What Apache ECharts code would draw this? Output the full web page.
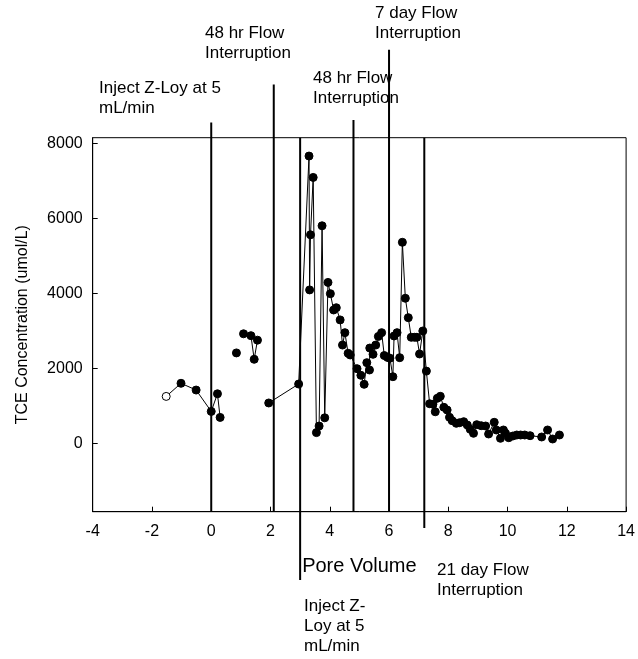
<!DOCTYPE html>
<html>
<head>
<meta charset="utf-8">
<script src="https://cdn.jsdelivr.net/npm/echarts@6/dist/echarts.min.js"></script>
<style>
html,body{margin:0;padding:0;background:#fff;}
#chart{width:638px;height:659px;}
</style>
</head>
<body>
<div id="chart"></div>
<script>
// ---- data (pore volume, TCE umol/L) ----
const seg1PV  = [-1.52, -1.02, -0.51, 0.00, 0.21, 0.30];
const seg1TCE = [1250, 1600, 1420, 850, 1320, 690];
const seg2PV  = [0.85];
const seg2TCE = [2410];
const seg3PV  = [1.09, 1.34, 1.45, 1.56];
const seg3TCE = [2920, 2870, 2240, 2750];
const seg4PV  = [1.94, 2.95, 3.30, 3.32, 3.35, 3.44, 3.55, 3.64, 3.74, 3.83,
                 3.94, 4.02, 4.13, 4.22, 4.35, 4.43, 4.51, 4.62, 4.69, 4.92,
                 5.05, 5.16, 5.25, 5.34, 5.35, 5.46, 5.55, 5.64, 5.75, 5.84,
                 5.95, 6.03, 6.13, 6.17, 6.27, 6.36, 6.45, 6.55, 6.65, 6.75,
                 6.86, 6.94, 7.03, 7.14, 7.26, 7.37, 7.48, 7.56, 7.63, 7.73,
                 7.85, 7.96, 8.04, 8.13, 8.27, 8.38, 8.52, 8.64, 8.74, 8.85,
                 8.96, 9.11, 9.26, 9.36, 9.55, 9.62, 9.76, 9.86, 9.93, 10.04,
                 10.18, 10.31, 10.44, 10.58, 10.76, 11.15, 11.35, 11.52, 11.75];
const seg4TCE = [1075, 1580, 7660, 4090, 5560, 7090, 285, 460, 5800, 680,
                 4290, 3990, 3555, 3615, 3290, 2620, 2950, 2400, 2355, 1990,
                 1813, 1573, 2150, 1955, 2540, 2373, 2620, 2850, 2950, 2340,
                 2290, 2270, 1776, 2862, 2950, 2283, 5360, 3867, 3350, 2827,
                 2827, 2827, 2382, 2995, 1925, 1055, 1040, 840, 1200, 1253,
                 960, 888, 693, 603, 533, 549, 576, 488, 373, 267,
                 496, 469, 461, 248, 560, 355, 133, 355, 267, 149,
                 195, 221, 221, 221, 203, 168, 355, 115, 221];
// index of the open-circle point in seg1
const openIndex = 0;

// event (vertical) lines
const eventPV     = [0, 2.11, 3.0, 4.80, 6.0, 7.19];
const eventTop    = [8557, 9566, 8149, 8622, 10497, 8149];
const eventBottom = [-1824, -1824, -3646, -1824, -1824, -2259];

// axis ticks
const xTicks = [-4, -2, 0, 2, 4, 6, 8, 10, 12, 14];
const yTicks = [0, 2000, 4000, 6000, 8000];

// annotation texts
const notes = [
  {lines: ['Inject Z-Loy at 5', 'mL/min'], x: 99, y: 88},
  {lines: ['48 hr Flow', 'Interruption'], x: 205, y: 33},
  {lines: ['48 hr Flow', 'Interruption'], x: 313, y: 78},
  {lines: ['7 day Flow', 'Interruption'], x: 375, y: 13},
  {lines: ['21 day Flow', 'Interruption'], x: 437, y: 570},
  {lines: ['Inject Z-', 'Loy at 5', 'mL/min'], x: 304, y: 606}
];

const FONT = '"Liberation Sans", Arial, sans-serif';

function zip(a, b) { return a.map((v, i) => [v, b[i]]); }

const pointStyle = {
  type: 'line',
  symbol: 'circle',
  symbolSize: 8,
  showSymbol: true,
  lineStyle: {color: '#000', width: 1},
  itemStyle: {color: '#000', borderColor: '#000', borderWidth: 1, opacity: 1},
  emphasis: {disabled: true},
  animation: false,
  z: 3
};

const seg1Data = zip(seg1PV, seg1TCE).map((d, i) => i === openIndex
  ? {value: d, itemStyle: {color: '#fff', borderColor: '#000', borderWidth: 1}}
  : d);

const series = [
  Object.assign({}, pointStyle, {data: seg1Data}),
  Object.assign({}, pointStyle, {data: zip(seg2PV, seg2TCE)}),
  Object.assign({}, pointStyle, {data: zip(seg3PV, seg3TCE)}),
  Object.assign({}, pointStyle, {data: zip(seg4PV, seg4TCE)})
];

eventPV.forEach((pv, i) => {
  series.push({
    type: 'line',
    data: [[pv, eventBottom[i]], [pv, eventTop[i]]],
    symbol: 'none',
    clip: false,
    lineStyle: {color: '#000', width: 2},
    emphasis: {disabled: true},
    animation: false,
    silent: true,
    z: 2
  });
});

const graphics = [];
notes.forEach(n => {
  n.lines.forEach((t, k) => {
    graphics.push({
      type: 'text',
      x: n.x, y: n.y + k * 20,
      style: {text: t, font: '17px ' + FONT, fill: '#000', verticalAlign: 'middle', align: 'left'},
      silent: true
    });
  });
});

const chart = echarts.init(document.getElementById('chart'), null, {renderer: 'canvas'});
chart.setOption({
  backgroundColor: '#fff',
  animation: false,
  grid: {left: 92.7, right: 11.3, top: 137.7, bottom: 147.3, show: true,
         borderColor: '#000', borderWidth: 1, backgroundColor: 'transparent'},
  xAxis: {
    type: 'value', min: -4, max: 14, interval: 2,
    name: 'Pore Volume', nameLocation: 'middle', nameGap: 45,
    nameTextStyle: {fontSize: 20, fontFamily: FONT, color: '#000'},
    axisLine: {show: true, onZero: false, lineStyle: {color: '#000', width: 1}},
    axisTick: {show: true, inside: true, length: 5, lineStyle: {color: '#000'}},
    axisLabel: {fontSize: 16, fontFamily: FONT, color: '#000', margin: 12,
                customValues: xTicks, formatter: v => String(v)},
    splitLine: {show: false}
  },
  yAxis: {
    type: 'value', min: -1824, max: 8149,
    name: 'TCE Concentration (umol/L)', nameLocation: 'middle', nameGap: 62,
    nameTextStyle: {fontSize: 16, fontFamily: FONT, color: '#000'},
    axisLine: {show: true, onZero: false, lineStyle: {color: '#000', width: 1}},
    axisTick: {show: true, inside: true, length: 5, lineStyle: {color: '#000'},
               customValues: yTicks},
    axisLabel: {fontSize: 16, fontFamily: FONT, color: '#000', margin: 10,
                customValues: yTicks, formatter: v => String(v)},
    splitLine: {show: false}
  },
  graphic: graphics,
  series: series
});
</script>
</body>
</html>
